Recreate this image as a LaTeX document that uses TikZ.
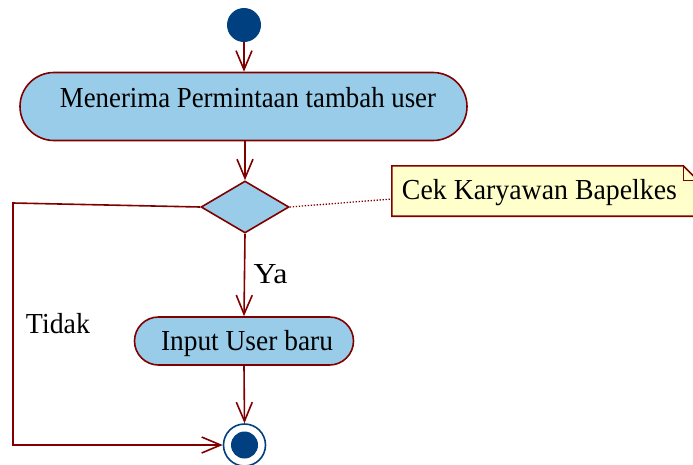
\documentclass[tikz,border=0pt]{standalone}
\usepackage{fontspec}
\usepackage{graphicx}
\setmainfont{Liberation Serif}
\usetikzlibrary{arrows.meta,shapes.geometric}

\definecolor{umlline}{RGB}{128,0,0}
\definecolor{actfill}{RGB}{153,204,232}
\definecolor{umlblue}{RGB}{0,64,128}
\definecolor{notefill}{RGB}{255,255,204}

% set a label at a given printed width, keeping its height
\newcommand{\fitlabel}[2]{\resizebox{#1}{\height}{#2}}

\tikzset{
  flow/.style={draw=umlline, line width=1.6pt,
    -{Straight Barb[length=19pt,width=16pt,line width=1.6pt]}},
  actbox/.style={draw=umlline, line width=1.6pt, fill=actfill,
    rectangle, inner sep=0pt},
  decbox/.style={draw=umlline, line width=1.6pt, fill=actfill,
    diamond, inner sep=0pt, minimum width=88pt, minimum height=52pt},
  lbl/.style={anchor=base, inner sep=0pt, text=black,
    font=\fontsize{29}{33}\selectfont},
  notelink/.style={draw=umlline, line width=1.3pt,
    dash pattern=on 1.3pt off 1.7pt},
}

\begin{document}
\begin{tikzpicture}[x=1pt, y=-1pt]
  \useasboundingbox (0,0) rectangle (693,464);

  % initial node
  \node[circle, fill=umlblue, minimum size=34pt, inner sep=0pt] (start) at (244,25) {};

  % first action
  \node[actbox, minimum width=447pt, minimum height=68pt, rounded corners=34pt]
    (act1) at (243.5,106.5) {};
  \node[lbl] (t1) at (248,107) {\fitlabel{376pt}{Menerima Permintaan tambah user}};

  % decision
  \node[decbox] (dec) at (245,207) {};

  % second action
  \node[actbox, minimum width=219pt, minimum height=48pt, rounded corners=24pt]
    (act2) at (244,341) {};
  \node[lbl] (t2) at (247,350) {\fitlabel{172pt}{Input User baru}};

  % final node
  \node[circle, draw=umlblue, line width=1.6pt, fill=white, minimum size=42pt,
        inner sep=0pt] (end) at (244.5,445) {};
  \node[circle, fill=umlblue, minimum size=27pt, inner sep=0pt] (endcore) at (244.5,445) {};

  % note with folded corner
  \node[rectangle, minimum width=306pt, minimum height=50pt, inner sep=0pt]
    (note) at (545,191) {};
  \filldraw[draw=umlline, fill=notefill, line width=1.6pt]
    (note.north west) -- ([xshift=-15pt]note.north east)
    -- ([yshift=-15pt]note.north east) -- (note.south east)
    -- (note.south west) -- cycle;
  \draw[umlline, line width=1.3pt]
    ([xshift=-15pt]note.north east) -- ([xshift=-15pt,yshift=-15pt]note.north east)
    -- ([yshift=-15pt]note.north east);
  \node[lbl] (t3) at (539.5,199) {\fitlabel{275pt}{Cek Karyawan Bapelkes}};

  % note anchor point and link
  \coordinate (noteport) at (392,199);
  \draw[notelink] (dec.east) -- (noteport);

  % guard labels
  \node[lbl] (ya) at (270.5,283) {\fitlabel{34pt}{Ya}};
  \node[lbl] (tidak) at (58,333) {\fitlabel{64pt}{Tidak}};

  % control flow
  \draw[flow] (start) -- (start |- act1.north);
  \draw[flow] (dec.north |- act1.south) -- (dec.north);
  \draw[flow] (dec.south) -- (act2.north);
  \draw[flow] (act2.south) -- (end.north);

  \coordinate (bendtop) at (13,203);
  \coordinate (bendbot) at (13,445);
  \draw[flow] (dec.west) -- (bendtop) -- (bendbot) -- (end.west);
\end{tikzpicture}
\end{document}
